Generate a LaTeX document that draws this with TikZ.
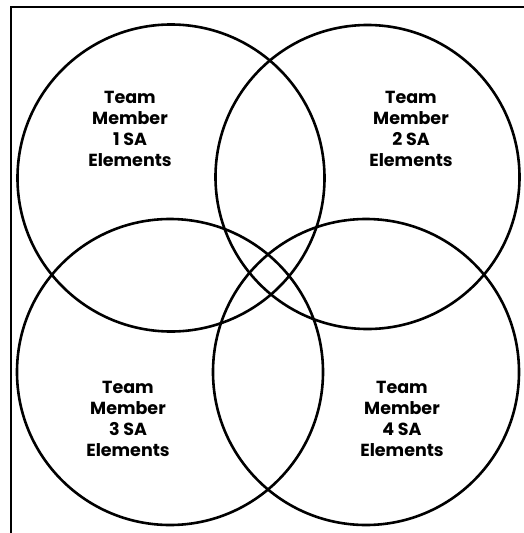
\documentclass[tikz,border=0pt]{standalone}
\usepackage{fontspec}
\setmainfont{Poppins}
\begin{document}
\begin{tikzpicture}[x=1pt,y=-1pt,
  ring/.style={draw=black,line width=2.6pt},
  lbl/.style={align=center,font=\bfseries\fontsize{17.5}{21}\selectfont,inner sep=0pt}]
\useasboundingbox (0,0) rectangle (524,533);
\draw[line width=1.8pt] (11,533) -- (11,7) -- (524,7);
\node[ring,circle,minimum size=307pt,inner sep=0pt] (c1) at (171,178) {};
\node[ring,circle,minimum size=304pt,inner sep=0pt] (c2) at (367.5,177) {};
\node[ring,circle,minimum size=306pt,inner sep=0pt] (c3) at (170,372) {};
\node[ring,circle,minimum size=306pt,inner sep=0pt] (c4) at (366,372) {};
\node[lbl] (t1) at (130,129) {Team\\Member\\1 SA\\Elements};
\node[lbl] (t2) at (411,129) {Team\\Member\\2 SA\\Elements};
\node[lbl] (t3) at (128,419) {Team\\Member\\3 SA\\Elements};
\node[lbl] (t4) at (402,419) {Team\\Member\\4 SA\\Elements};
\end{tikzpicture}
\end{document}
